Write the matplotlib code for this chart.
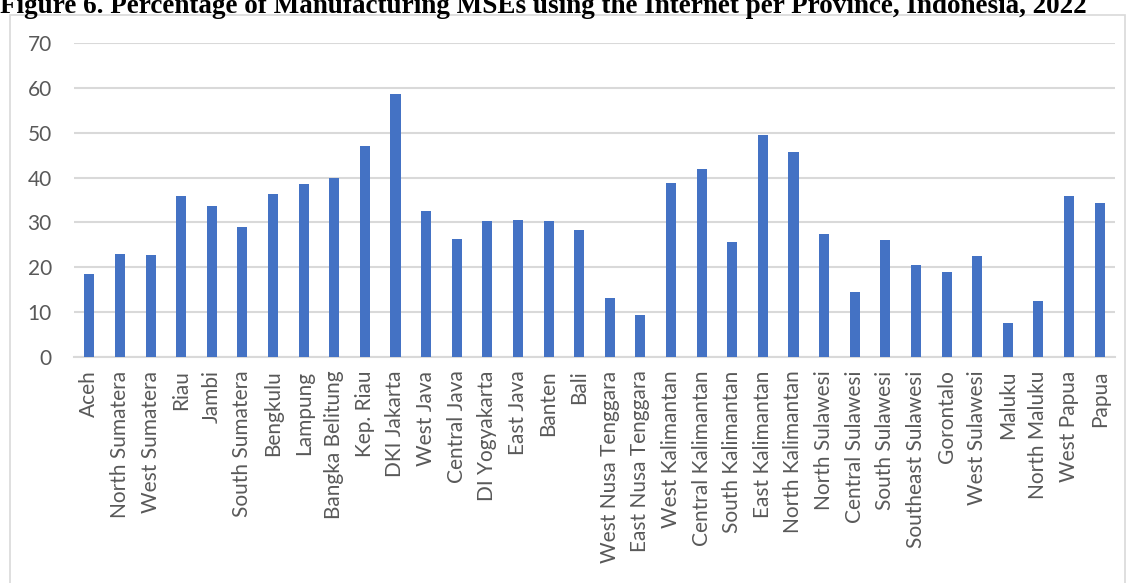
#!/usr/bin/env python3

import matplotlib.pyplot as plt
from matplotlib.patches import Rectangle

provinces = [
    "Aceh", "North Sumatera", "West Sumatera", "Riau", "Jambi", "South Sumatera",
    "Bengkulu", "Lampung", "Bangka Belitung", "Kep. Riau", "DKI Jakarta",
    "West Java", "Central Java", "DI Yogyakarta", "East Java", "Banten", "Bali",
    "West Nusa Tenggara", "East Nusa Tenggara", "West Kalimantan",
    "Central Kalimantan", "South Kalimantan", "East Kalimantan",
    "North Kalimantan", "North Sulawesi", "Central Sulawesi", "South Sulawesi",
    "Southeast Sulawesi", "Gorontalo", "West Sulawesi", "Maluku", "North Maluku",
    "West Papua", "Papua",
]
pct_internet = [
    18.4, 22.9, 22.8, 35.9, 33.6, 29.0,
    36.4, 38.6, 39.9, 47.1, 58.7,
    32.5, 26.3, 30.2, 30.6, 30.4, 28.2,
    13.1, 9.3, 38.9,
    41.9, 25.6, 49.5,
    45.7, 27.4, 14.4, 26.1,
    20.5, 19.0, 22.6, 7.5, 12.5,
    35.8, 34.3,
]
yticks = [0, 10, 20, 30, 40, 50, 60, 70]

BAR = "#4472C4"
GRID = "#D9D9D9"
TXT = "#595959"

fig = plt.figure(figsize=(11.3, 5.83), dpi=100)
ax = fig.add_axes([0.0655, 0.3882, 0.9212, 0.5375])

# outer chart frame (runs off the bottom of the image)
fig.patches.append(Rectangle((10 / 1130, -0.05), 1115 / 1130, 1 - 15 / 583 + 0.05,
                             transform=fig.transFigure, fill=False,
                             edgecolor=GRID, linewidth=1.2, clip_on=False))

# title, partly cut off along the top edge
fig.text(0.0, 1 - 13 / 583, "Figure 6. Percentage of Manufacturing MSEs using the Internet per Province, Indonesia, 2022",
         family="Liberation Serif", weight="bold", fontsize=19.5, ha="left", va="baseline")

x = range(len(provinces))
ax.bar(x, pct_internet, width=0.33, color=BAR, zorder=3)

ax.set_xlim(-0.5, len(provinces) - 0.5)
ax.set_ylim(0, 70)
ax.set_yticks(yticks)
ax.grid(axis="y", color=GRID, linewidth=1.5, zorder=0)
for s in ["top", "right", "left"]:
    ax.spines[s].set_visible(False)
ax.spines["bottom"].set_color(GRID)
ax.spines["bottom"].set_linewidth(1.5)

ax.set_xticks(list(x))
ax.set_xticklabels(provinces, rotation=90, ha="center", va="top",
                   family="Lato", fontsize=15, color=TXT)
ax.tick_params(axis="x", length=0, pad=10)
ax.tick_params(axis="y", length=0, pad=16, labelsize=15, labelcolor=TXT)
for lbl in ax.get_yticklabels():
    lbl.set_family("Lato")

fig.savefig("out.png", dpi=100)
